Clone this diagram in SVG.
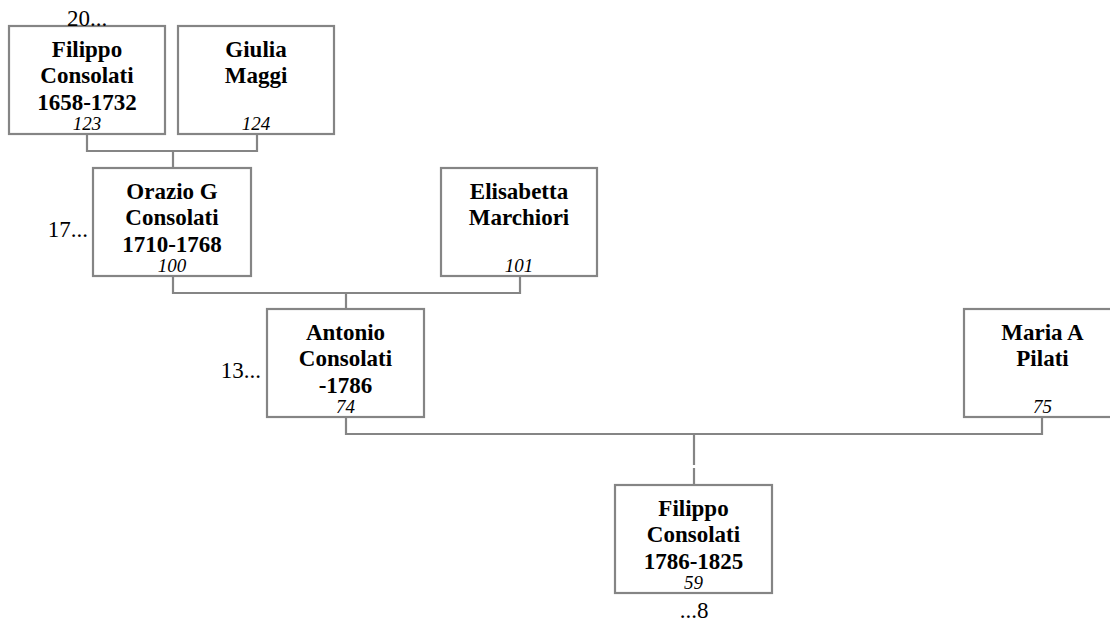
<svg xmlns="http://www.w3.org/2000/svg" width="1110" height="626" viewBox="0 0 1110 626">
<style>
.box{fill:#fff;stroke:#858585;stroke-width:2.2}
.ln{fill:none;stroke:#858585;stroke-width:2.2}
text{font-family:'Liberation Serif','Times New Roman',Times,serif;fill:#000}
.nm{font-weight:bold;font-size:23px;text-anchor:middle}
.id{font-style:italic;font-size:19px;text-anchor:middle}
.lb{font-size:23px}
</style>
<rect width="1110" height="626" fill="#fff"/>
<g id="connectors">
<path class="ln" d="M87,134V151H257V134M173,151V168"/>
<path class="ln" d="M173,276V293H520V276M346,293V309"/>
<path class="ln" d="M346,417V434H1042V417M694,434V465M694,468V485"/>
</g>
<g id="n123">
<rect class="box" x="9" y="26" width="156" height="108"/>
<text class="nm" x="87" y="57">Filippo</text>
<text class="nm" x="87" y="83">Consolati</text>
<text class="nm" x="87" y="110">1658-1732</text>
<text class="id" x="87" y="130">123</text>
<text class="lb" x="87" y="26" text-anchor="middle">20...</text>
</g>
<g id="n124">
<rect class="box" x="178" y="26" width="156" height="108"/>
<text class="nm" x="256" y="57">Giulia</text>
<text class="nm" x="256" y="83">Maggi</text>
<text class="id" x="256" y="130">124</text>
</g>
<g id="n100">
<rect class="box" x="93" y="168" width="158" height="108"/>
<text class="nm" x="172" y="199">Orazio G</text>
<text class="nm" x="172" y="225">Consolati</text>
<text class="nm" x="172" y="252">1710-1768</text>
<text class="id" x="172" y="272">100</text>
<text class="lb" x="88" y="237" text-anchor="end">17...</text>
</g>
<g id="n101">
<rect class="box" x="441" y="168" width="156" height="108"/>
<text class="nm" x="519" y="199">Elisabetta</text>
<text class="nm" x="519" y="225">Marchiori</text>
<text class="id" x="519" y="272">101</text>
</g>
<g id="n74">
<rect class="box" x="267" y="309" width="157" height="108"/>
<text class="nm" x="345.5" y="340">Antonio</text>
<text class="nm" x="345.5" y="366">Consolati</text>
<text class="nm" x="345.5" y="393">-1786</text>
<text class="id" x="345.5" y="413">74</text>
<text class="lb" x="261" y="378" text-anchor="end">13...</text>
</g>
<g id="n75">
<rect class="box" x="964" y="309" width="157" height="108"/>
<text class="nm" x="1042.5" y="340">Maria A</text>
<text class="nm" x="1042.5" y="366">Pilati</text>
<text class="id" x="1042.5" y="413">75</text>
</g>
<g id="n59">
<rect class="box" x="615" y="485" width="157" height="108"/>
<text class="nm" x="693.5" y="516">Filippo</text>
<text class="nm" x="693.5" y="542">Consolati</text>
<text class="nm" x="693.5" y="569">1786-1825</text>
<text class="id" x="693.5" y="589">59</text>
<text class="lb" x="694" y="618" text-anchor="middle">...8</text>
</g>
</svg>
